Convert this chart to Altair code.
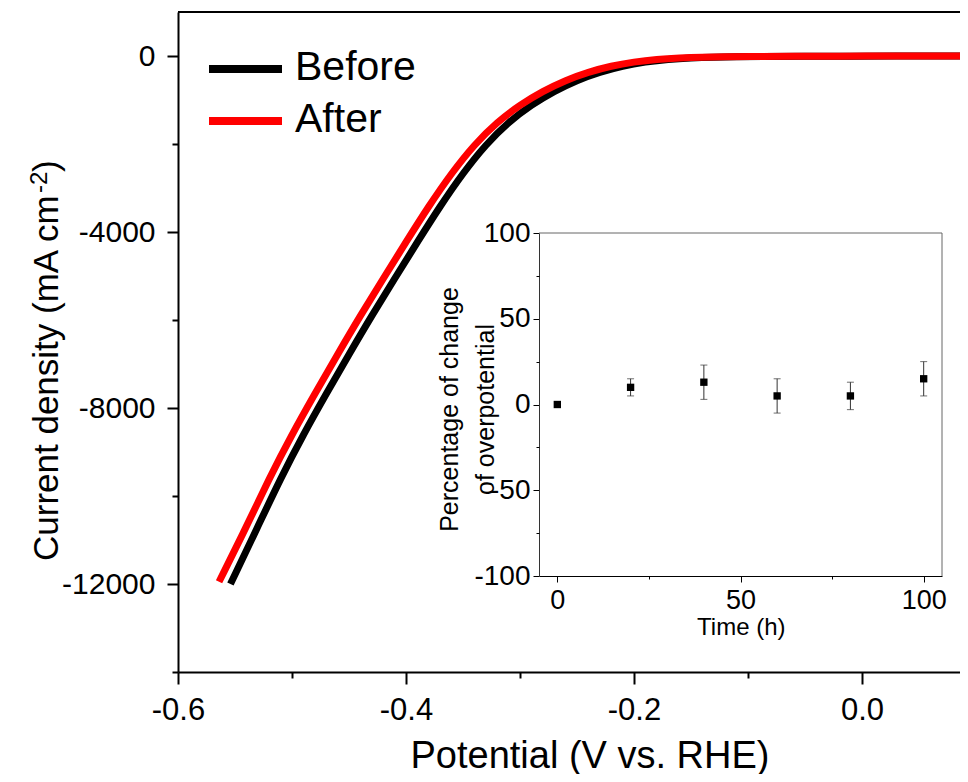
import altair as alt
import pandas as pd

FONT = "Liberation Sans"

# ---------------- data: polarization curves ----------------
series = ["Before", "After"]
series_colors = ["#000000", "#ff0000"]

v_before = [-0.554, -0.530, -0.510, -0.490, -0.470, -0.450, -0.430, -0.410, -0.390,
            -0.370, -0.350, -0.330, -0.310, -0.290, -0.270, -0.250, -0.230, -0.210,
            -0.190, -0.170, -0.150, -0.130, -0.110, -0.090, -0.050, -0.010, 0.030,
            0.070, 0.100]
j_before = [-12000, -10700, -9600, -8600, -7680, -6780, -5900, -5060, -4230,
            -3410, -2660, -2010, -1500, -1110, -800, -550, -365, -225,
            -135, -75, -45, -28, -18, -12, -6, -3, -1,
            0, 0]

v_after = [-0.564, -0.540, -0.520, -0.500, -0.480, -0.460, -0.440, -0.420, -0.400,
           -0.380, -0.360, -0.340, -0.320, -0.300, -0.280, -0.260, -0.240, -0.220,
           -0.200, -0.180, -0.160, -0.140, -0.120, -0.100, -0.060, -0.020, 0.020,
           0.060, 0.100]
j_after = [-11950, -10700, -9600, -8600, -7680, -6780, -5900, -5060, -4230,
           -3410, -2660, -2010, -1500, -1110, -800, -550, -365, -225,
           -135, -75, -45, -28, -18, -12, -6, -3, -1,
           0, 0]

# ---------------- data: inset ----------------
time_h = [0, 20, 40, 60, 80, 100]
pct_change = [0, 10, 13, 5, 5, 15]
pct_err = [0, 5, 10, 10, 8, 10]

# ---------------- tick values ----------------
main_x_major = [-0.6, -0.4, -0.2, 0.0]
main_x_minor = [-0.5, -0.3, -0.1]
main_y_major = [0, -4000, -8000, -12000]
main_y_minor = [-2000, -6000, -10000, -14000]
inset_x_major = [0, 50, 100]
inset_x_minor = [25, 75]
inset_y_major = [-100, -50, 0, 50, 100]
inset_y_minor = [-75, -25, 25, 75]

W, H = 782, 660
X_DOM = [-0.6, -0.6 + W * 0.2 / 228]
Y_DOM = [-14000, 1000]

df_b = pd.DataFrame({"v": v_before, "j": j_before, "series": series[0]})
df_a = pd.DataFrame({"v": v_after, "j": j_after, "series": series[1]})
df_main = pd.concat([df_b, df_a], ignore_index=True)

df_in = pd.DataFrame({"t": time_h, "pct": pct_change, "err": pct_err})
df_in["lo"] = df_in["pct"] - df_in["err"]
df_in["hi"] = df_in["pct"] + df_in["err"]

one = pd.DataFrame({"k": [0]})

MINUS_FIX = "replace(datum.label, '\u2212', '-')"


def ax(**kw):
    base = dict(grid=False, labelFont=FONT, titleFont=FONT, labelColor="black",
                titleColor="black", tickColor="black", domainColor="black",
                titleFontWeight="normal", labelFlush=False, labelOverlap=False)
    base.update(kw)
    return alt.Axis(**base)


xs = alt.Scale(domain=X_DOM, nice=False, zero=False)
ys = alt.Scale(domain=Y_DOM, nice=False, zero=False)

x_major_axis = ax(orient="bottom", values=main_x_major, format=".1f", labelExpr=MINUS_FIX,
                  tickSize=12, tickWidth=2, domainWidth=2, labelFontSize=31,
                  labelBaseline="alphabetic", labelPadding=35,
                  title="Potential (V vs. RHE)", titleFontSize=38, titleX=411.5, titleY=95,
                  titleBaseline="alphabetic", titleAlign="center")
y_major_axis = ax(orient="left", values=main_y_major, format="d", labelExpr=MINUS_FIX,
                  tickSize=11, tickWidth=2, domainWidth=2, labelFontSize=30, labelPadding=12,
                  title=None)

x_enc = alt.X("v:Q", scale=xs, axis=x_major_axis)
y_enc = alt.Y("j:Q", scale=ys, axis=y_major_axis)

before_line = alt.Chart(df_b).mark_line(color=series_colors[0], strokeWidth=7, clip=True,
                                        interpolate="basis").encode(x=x_enc, y=y_enc)
after_line = alt.Chart(df_a).mark_line(color=series_colors[1], strokeWidth=7, clip=True,
                                       interpolate="basis").encode(x=x_enc, y=y_enc)
main_lines = alt.layer(before_line, after_line)

main_minor = alt.Chart(df_main).mark_point(opacity=0).encode(
    x=alt.X("v:Q", scale=xs, axis=ax(orient="bottom", values=main_x_minor, tickSize=6,
                                     tickWidth=2, labels=False, domain=False, title=None)),
    y=alt.Y("j:Q", scale=ys, axis=ax(orient="left", values=main_y_minor, tickSize=6,
                                     tickWidth=2, labels=False, domain=False, title=None)),
)

# ---------------- inset ----------------
ixs = alt.Scale(domain=[-5, 105], range=[361, 764], nice=False, zero=False)
iys = alt.Scale(domain=[-100, 100], range=[564, 221], nice=False, zero=False)

ix_axis = ax(orient="bottom", offset=-96, values=inset_x_major, format="d",
             tickSize=6, tickWidth=1, domainWidth=1, labelFontSize=27,
             labelBaseline="alphabetic", labelPadding=26,
             title="Time (h)", titleFontSize=24, titleX=562.8, titleY=58,
             titleBaseline="alphabetic", titleAlign="center")
iy_axis = ax(orient="left", offset=-361, values=inset_y_major, format="d", labelExpr=MINUS_FIX,
             tickSize=6, tickWidth=1, domainWidth=1, domainColor="#333333", labelFontSize=28,
             labelPadding=3,
             title=["Percentage of change", "of overpotential"], titleFontSize=25,
             titleLineHeight=36, titleX=-82, titleY=397, titleBaseline="alphabetic",
             titleAlign="center", titleAngle=270)

ix_enc = alt.X("t:Q", scale=ixs, axis=ix_axis)

err_rule = alt.Chart(df_in).transform_filter("datum.err > 0").mark_rule(
    color="#333333", strokeWidth=1).encode(
    x=ix_enc, y=alt.Y("lo:Q", scale=iys, axis=iy_axis), y2="hi:Q")
cap_lo = alt.Chart(df_in).transform_filter("datum.err > 0").mark_tick(
    orient="horizontal", size=7, thickness=1, color="#333333").encode(
    x=ix_enc, y=alt.Y("lo:Q", scale=iys, axis=iy_axis))
cap_hi = alt.Chart(df_in).transform_filter("datum.err > 0").mark_tick(
    orient="horizontal", size=7, thickness=1, color="#333333").encode(
    x=ix_enc, y=alt.Y("hi:Q", scale=iys, axis=iy_axis))
pts = alt.Chart(df_in).mark_square(size=54, color="black", opacity=1).encode(
    x=ix_enc, y=alt.Y("pct:Q", scale=iys, axis=iy_axis))
inset = alt.layer(err_rule, cap_lo, cap_hi, pts)

inset_minor = alt.Chart(df_in).mark_point(opacity=0).encode(
    x=alt.X("t:Q", scale=ixs, axis=ax(orient="bottom", offset=-96, values=inset_x_minor,
                                      tickSize=3, tickWidth=1, labels=False, domain=False,
                                      title=None)),
    y=alt.Y("pct:Q", scale=iys, axis=ax(orient="left", offset=-361, values=inset_y_minor,
                                        tickSize=3, tickWidth=1, labels=False, domain=False,
                                        title=None)),
)

frame_top = alt.Chart(one).mark_rule(color="#666666", strokeWidth=1).encode(
    x=alt.value(361), x2=alt.value(764), y=alt.value(221))
frame_right = alt.Chart(one).mark_rule(color="#666666", strokeWidth=1).encode(
    x=alt.value(764), y=alt.value(221), y2=alt.value(564))

# main plot top border
top_border = alt.Chart(one).mark_rule(color="black", strokeWidth=2).encode(
    x=alt.value(0), x2=alt.value(W), y=alt.value(0))

# ---------------- legend ----------------
legend_layers = []
for i, (name, col) in enumerate(zip(series, series_colors)):
    legend_layers.append(alt.Chart(one).mark_rule(color=col, strokeWidth=8).encode(
        x=alt.value(31), x2=alt.value(104), y=alt.value(57 + 52 * i)))
    legend_layers.append(alt.Chart(one).mark_text(
        font=FONT, fontSize=41, align="left", baseline="alphabetic", color="black").encode(
        x=alt.value(117), y=alt.value(68 + 52 * i), text=alt.value(name)))

# ---------------- y-axis title with superscript ----------------
ytitle = [
    alt.Chart(one).mark_text(font=FONT, fontSize=35, angle=270, align="left",
                             baseline="alphabetic", color="black").encode(
        x=alt.value(-120), y=alt.value(549), text=alt.value("Current density (mA cm")),
    alt.Chart(one).mark_text(font=FONT, fontSize=24, angle=270, align="left",
                             baseline="alphabetic", color="black").encode(
        x=alt.value(-131), y=alt.value(181), text=alt.value("-2")),
    alt.Chart(one).mark_text(font=FONT, fontSize=35, angle=270, align="left",
                             baseline="alphabetic", color="black").encode(
        x=alt.value(-120), y=alt.value(160), text=alt.value(")")),
]

chart = alt.layer(
    main_lines, main_minor, inset, inset_minor, frame_top, frame_right, top_border,
    *legend_layers, *ytitle
).resolve_scale(
    x="independent", y="independent"
).resolve_axis(
    x="independent", y="independent"
).properties(
    width=W, height=H,
    padding={"left": 170, "top": 4, "right": 0, "bottom": 102},
    autosize=alt.AutoSizeParams(type="none"),
).configure_view(
    strokeWidth=0
).configure(
    background="white"
)

chart.save("out.html", embed_options={"renderer": "svg", "actions": False})
